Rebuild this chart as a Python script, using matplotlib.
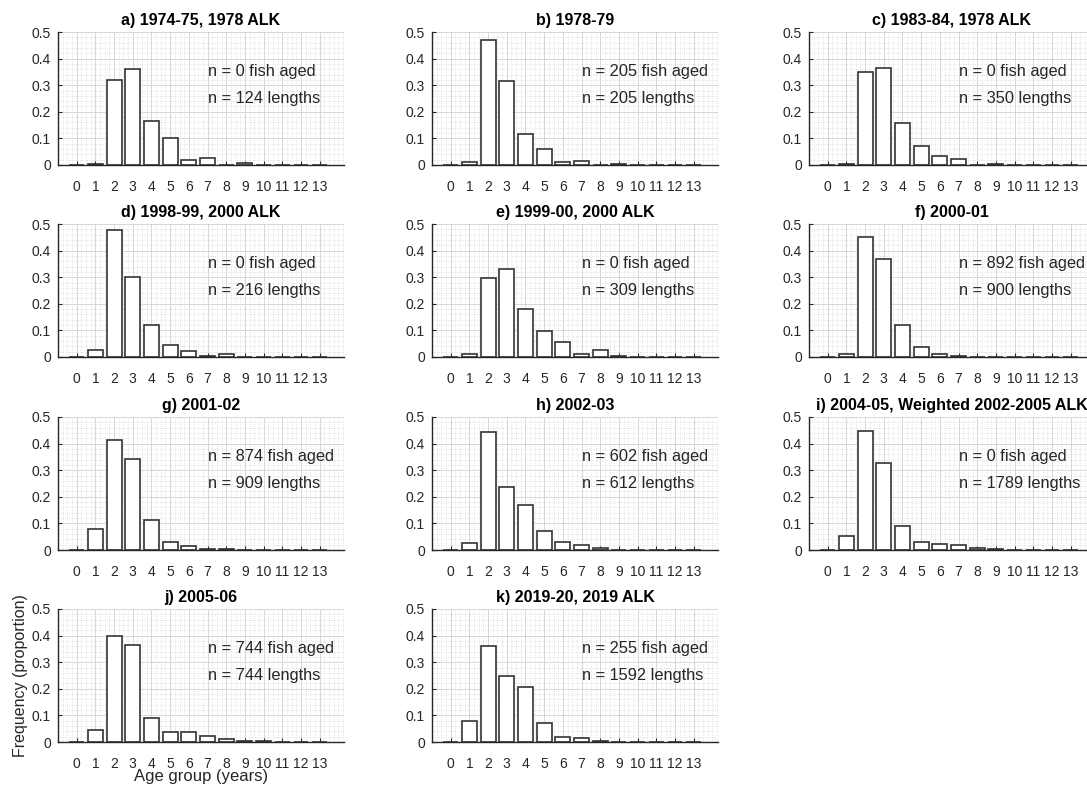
import matplotlib
matplotlib.use("Agg")
import numpy as np
import matplotlib.pyplot as plt
from matplotlib.ticker import MultipleLocator

plt.rcParams['font.family'] = ['Liberation Sans', 'DejaVu Sans']

ages = np.arange(0, 14)

titles = [
    "a) 1974-75, 1978 ALK", "b) 1978-79", "c) 1983-84, 1978 ALK",
    "d) 1998-99, 2000 ALK", "e) 1999-00, 2000 ALK", "f) 2000-01",
    "g) 2001-02", "h) 2002-03", "i) 2004-05, Weighted 2002-2005 ALK",
    "j) 2005-06", "k) 2019-20, 2019 ALK",
]
n_aged = [0, 205, 0, 0, 0, 892, 874, 602, 0, 744, 255]
n_lengths = [124, 205, 350, 216, 309, 900, 909, 612, 1789, 744, 1592]

freq_a = [0, 0.005, 0.32, 0.36, 0.167, 0.10, 0.02, 0.028, 0, 0.008, 0, 0, 0, 0]
freq_b = [0, 0.012, 0.47, 0.315, 0.115, 0.06, 0.01, 0.015, 0, 0.004, 0, 0, 0, 0]
freq_c = [0, 0.002, 0.35, 0.365, 0.157, 0.072, 0.032, 0.023, 0, 0.005, 0, 0, 0, 0]
freq_d = [0, 0.028, 0.478, 0.30, 0.12, 0.045, 0.022, 0.005, 0.01, 0, 0, 0, 0, 0]
freq_e = [0, 0.01, 0.296, 0.33, 0.18, 0.097, 0.055, 0.01, 0.028, 0.003, 0, 0, 0, 0]
freq_f = [0, 0.01, 0.453, 0.368, 0.122, 0.037, 0.01, 0.003, 0.001, 0, 0, 0, 0, 0]
freq_g = [0, 0.08, 0.414, 0.343, 0.114, 0.029, 0.016, 0.003, 0.003, 0.001, 0, 0, 0, 0]
freq_h = [0, 0.027, 0.445, 0.237, 0.17, 0.07, 0.03, 0.017, 0.006, 0.001, 0.001, 0, 0, 0]
freq_i = [0, 0.054, 0.447, 0.328, 0.092, 0.031, 0.024, 0.017, 0.006, 0.002, 0, 0, 0, 0]
freq_j = [0, 0.046, 0.397, 0.365, 0.091, 0.036, 0.036, 0.023, 0.01, 0.005, 0.002, 0.001, 0, 0]
freq_k = [0, 0.08, 0.36, 0.248, 0.207, 0.07, 0.018, 0.015, 0.002, 0.001, 0.001, 0, 0, 0.001]
freqs = [freq_a, freq_b, freq_c, freq_d, freq_e, freq_f,
         freq_g, freq_h, freq_i, freq_j, freq_k]

W, H = 1087, 785
fig = plt.figure(figsize=(W / 100, H / 100), dpi=100)

# axes boxes in pixels: left edges of columns, top/bottom of rows
col_left = [58, 432, 809]
ax_w = 286
row_top = [32, 224, 417, 609]
ax_h = 133
txt_col = '#262626'

for k, (title, f) in enumerate(zip(titles, freqs)):
    r, c = divmod(k, 3)
    x0 = col_left[c] / W
    y0 = 1 - (row_top[r] + ax_h) / H
    ax = fig.add_axes([x0, y0, ax_w / W, ax_h / H])

    ax.set_axisbelow(True)
    ax.grid(True, which='major', color='#d6d6d6', lw=0.7)
    ax.grid(True, which='minor', color='#d9d9d9', lw=0.6, ls=':')
    ax.bar(ages, f, width=0.8, facecolor='white', edgecolor='#333333', lw=1.2)

    ax.set_xlim(-1, 14.3)
    ax.set_ylim(0, 0.5)
    ax.set_xticks(ages)
    ax.set_yticks([0, 0.1, 0.2, 0.3, 0.4, 0.5])
    ax.set_yticklabels(['0', '0.1', '0.2', '0.3', '0.4', '0.5'])
    ax.xaxis.set_minor_locator(MultipleLocator(0.25))
    ax.yaxis.set_minor_locator(MultipleLocator(0.02))
    ax.tick_params(which='both', direction='in', labelsize=10,
                   colors=txt_col, length=3)
    ax.tick_params(which='minor', length=0)
    ax.tick_params(axis='x', pad=10.5)
    ax.tick_params(axis='y', pad=5)
    for s in ['top', 'right']:
        ax.spines[s].set_visible(False)
    for s in ['left', 'bottom']:
        ax.spines[s].set_color('#262626')
        ax.spines[s].set_linewidth(1.0)

    ax.set_title(title, fontsize=11.5, fontweight='bold', pad=5)
    ax.text(7, 0.35, f"n = {n_aged[k]} fish aged", fontsize=11.8,
            color=txt_col, va='center', ha='left')
    ax.text(7, 0.25, f"n = {n_lengths[k]} lengths", fontsize=11.8,
            color=txt_col, va='center', ha='left')

    if k == 9:
        ax.set_ylabel("Frequency (proportion)", fontsize=11.5, color=txt_col,
                      labelpad=3)
        ax.set_xlabel("Age group (years)", fontsize=12, color=txt_col,
                      labelpad=-1.5)

fig.savefig("out.png", dpi=100)
